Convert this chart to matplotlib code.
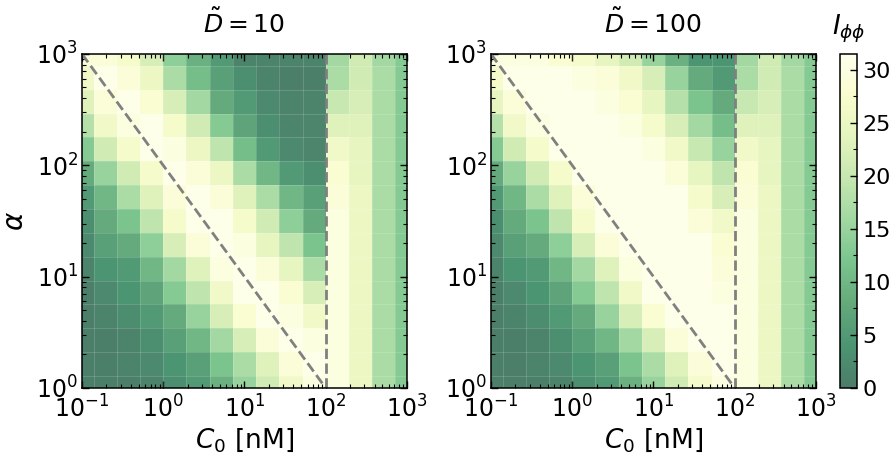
import numpy as np
import matplotlib
matplotlib.use("Agg")
import matplotlib.pyplot as plt
from matplotlib.ticker import LogLocator, MultipleLocator, NullFormatter

plt.rcParams['font.family'] = ['DejaVu Sans']
plt.rcParams['mathtext.fontset'] = 'dejavusans'

# grid of C0 [nM] (columns) and alpha (rows), log spaced
C0 = [0.1, 0.193, 0.373, 0.72, 1.39, 2.68, 5.18, 10.0, 19.3, 37.3, 72.0, 139.0, 268.0, 518.0, 1000.0]
alpha = [1.0, 1.64, 2.68, 4.39, 7.2, 11.8, 19.3, 31.6, 51.8, 84.8, 139.0, 228.0, 373.0, 611.0, 1000.0]

# I_phiphi, rows listed from alpha = 1000 (top) down to alpha = 1 (bottom)
I_D10 = [
    [29, 29, 27, 22, 14, 9, 5, 1, 1, 1, 1, 16, 21, 16, 13],
    [26, 31, 29, 25, 17, 11, 6, 3, 1, 0.5, 0.5, 17, 21, 17, 13],
    [23, 29, 31, 28, 22, 16, 8, 5, 2, 1, 1, 20, 22, 17, 13],
    [18, 26, 30, 31, 27, 21, 13, 7, 3, 1.5, 1.5, 23, 23, 17, 13],
    [13, 21, 27, 31, 30, 25, 19, 11, 5, 2, 1.5, 26, 24, 17, 13],
    [8, 15, 21, 27, 31, 29, 25, 17, 10, 5, 3, 28, 24, 17, 13],
    [5, 10, 17, 23, 29, 31, 29, 23, 17, 10, 6, 29, 25, 17, 13],
    [3, 8, 12, 19, 27, 31, 31, 27, 21, 14, 8, 30, 25, 17, 13],
    [2, 6, 8, 14, 22, 29, 31, 30, 24, 19, 12, 30, 25, 17, 13],
    [1, 4, 5, 10, 16, 23, 30, 31, 29, 24, 17, 30, 25, 17, 13],
    [0.5, 2, 4, 7, 13, 19, 26, 31, 31, 28, 22, 30, 25, 17, 13],
    [0.5, 1, 2.5, 5, 8, 15, 22, 28, 31, 30, 26, 30, 25, 17, 13],
    [0.5, 0.5, 1, 3, 6, 10, 16, 22, 29, 31, 30, 30, 25, 17, 13],
    [0.5, 0.5, 1, 2, 4, 6, 12, 17, 23, 29, 31, 30, 25, 17, 13],
    [0.5, 0.5, 0.5, 1, 3, 5, 9, 15, 21, 26, 30, 30, 25, 17, 13],
]

I_D100 = [
    [30, 30, 30, 28, 27, 24, 21, 15, 9, 4, 4, 16, 21, 16, 13],
    [27, 31, 31, 31, 30, 29, 26, 22, 15, 8, 5, 17, 21, 17, 13],
    [24, 29, 31, 31, 31, 30, 28, 24, 18, 12, 8, 20, 22, 17, 13],
    [18, 26, 30, 31, 31, 31, 30, 27, 22, 16, 11, 23, 23, 17, 13],
    [13, 21, 27, 31, 31, 31, 31, 30, 26, 20, 15, 26, 24, 17, 13],
    [8, 15, 21, 27, 31, 31, 31, 31, 29, 24, 19, 28, 24, 17, 13],
    [5, 10, 17, 23, 29, 31, 31, 31, 31, 27, 22, 29, 25, 17, 13],
    [3, 8, 12, 19, 27, 31, 31, 31, 31, 29, 26, 30, 25, 17, 13],
    [2, 6, 8, 14, 22, 29, 31, 31, 31, 31, 28, 30, 25, 17, 13],
    [1, 4, 5, 10, 16, 23, 30, 31, 31, 31, 29, 30, 25, 17, 13],
    [0.5, 2, 4, 7, 13, 19, 26, 31, 31, 31, 30, 30, 25, 17, 13],
    [0.5, 1, 2.5, 5, 8, 15, 22, 28, 31, 31, 31, 30, 25, 17, 13],
    [0.5, 0.5, 1, 3, 6, 10, 16, 22, 29, 31, 31, 30, 25, 17, 13],
    [0.5, 0.5, 1, 2, 4, 6, 12, 17, 23, 29, 31, 30, 25, 17, 13],
    [0.5, 0.5, 0.5, 1, 3, 5, 9, 15, 21, 27, 30, 30, 25, 17, 13],
]

titles = [r'$\tilde{D}=10$', r'$\tilde{D}=100$']


def log_edges(c):
    c = np.asarray(c, dtype=float)
    mid = np.sqrt(c[:-1] * c[1:])
    return np.concatenate([[c[0] ** 2 / mid[0]], mid, [c[-1] ** 2 / mid[-1]]])


fig = plt.figure(figsize=(8.94, 4.61), dpi=100)
ax1 = fig.add_axes([0.0917, 0.1584, 0.3635, 0.7245])
ax2 = fig.add_axes([0.5492, 0.1584, 0.3635, 0.7245])
cax = fig.add_axes([0.9396, 0.1584, 0.019, 0.7245])

xe = log_edges(C0)
ye = log_edges(alpha)

for ax, data, title in zip([ax1, ax2], [I_D10, I_D100], titles):
    Z = np.array(data, dtype=float)[::-1]
    mesh = ax.pcolormesh(xe, ye, Z, cmap='YlGn_r', vmin=0, vmax=31.5, alpha=0.7)
    # faint seams between the cells
    ax.vlines(xe[1:-1], 1, 1000, color='white', alpha=0.18, lw=0.6)
    ax.hlines(ye[1:-1], 0.1, 1000, color='white', alpha=0.18, lw=0.6)
    ax.set_xscale('log')
    ax.set_yscale('log')
    ax.set_xlim(0.1, 1000)
    ax.set_ylim(1, 1000)
    ax.plot([0.1, 100], [1000, 1], color='gray', ls='--', lw=2)
    ax.plot([100, 100], [1, 1000], color='gray', ls='--', lw=2)
    ax.set_title(title, fontsize=18, pad=15)
    ax.set_xlabel(r'$C_0$ [nM]', fontsize=19, labelpad=3)
    ax.xaxis.set_major_locator(LogLocator(base=10, numticks=10))
    ax.yaxis.set_major_locator(LogLocator(base=10, numticks=10))
    ax.xaxis.set_minor_locator(LogLocator(base=10, subs=np.arange(2, 10), numticks=20))
    ax.yaxis.set_minor_locator(LogLocator(base=10, subs=np.arange(2, 10), numticks=20))
    ax.xaxis.set_minor_formatter(NullFormatter())
    ax.yaxis.set_minor_formatter(NullFormatter())
    ax.tick_params(which='both', direction='in', top=True, right=True, labelsize=17)
    ax.tick_params(which='major', length=5, width=1)
    ax.tick_params(axis='x', which='major', pad=5)
    ax.tick_params(axis='y', which='major', pad=3)
    ax.tick_params(which='minor', length=3, width=0.8)
    for s in ax.spines.values():
        s.set_linewidth(1.1)

ax1.set_ylabel(r'$\alpha$', fontsize=20, labelpad=5)

cb = fig.colorbar(mesh, cax=cax)
cb.solids.set_alpha(0.7)
cb.set_ticks([0, 5, 10, 15, 20, 25, 30])
cb.ax.yaxis.set_minor_locator(MultipleLocator(2.5))
cb.ax.tick_params(which='both', direction='in', labelsize=16)
cb.ax.tick_params(which='major', length=5, width=1, pad=4)
cb.ax.tick_params(which='minor', length=3, width=0.8)
cb.outline.set_linewidth(1.1)
cax.set_title(r'$I_{\phi\phi}$', fontsize=19, pad=14)

fig.savefig('out.png', dpi=100)
